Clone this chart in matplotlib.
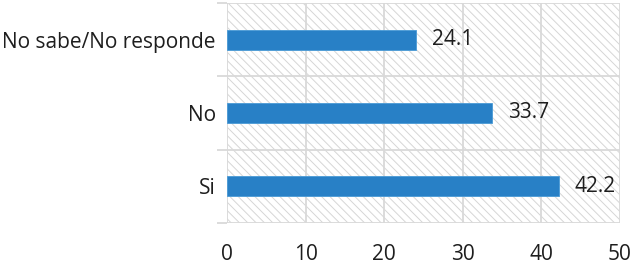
import matplotlib.pyplot as plt
from matplotlib.patches import Rectangle
import numpy as np

# data
categories = ['Si', 'No', 'No sabe/No responde']
values = [42.2, 33.7, 24.1]
xticks = [0, 10, 20, 30, 40, 50]

plt.rcParams['font.family'] = ['Open Sans', 'DejaVu Sans']
plt.rcParams['hatch.linewidth'] = 0.7
plt.rcParams['hatch.color'] = '#d6d6d6'

fig = plt.figure(figsize=(6.33, 2.65), dpi=100)
ax = fig.add_axes([0.3586, 0.1585, 0.6209, 0.8302])

grid_c = '#d9d9d9'
txt_c = '#1e1e1e'
# hatched background
bg = Rectangle((0, 0), 1, 1, transform=ax.transAxes, facecolor='white',
               edgecolor='#d6d6d6', hatch='\\\\\\\\', linewidth=0, zorder=0)
ax.add_patch(bg)

y = np.arange(len(categories))
ax.barh(y, values, height=0.27, color='#2880c6', edgecolor='#4a9ad6',
        linewidth=0.6, zorder=3)

for yi, v in zip(y, values):
    ax.text(v + 2.0, yi, f'{v:.1f}', va='center', ha='left', fontsize=15,
            color=txt_c)

ax.set_xlim(0, 50)
ax.set_ylim(-0.5, len(categories) - 0.5)
ax.set_xticks(xticks)
ax.set_yticks(y)
ax.set_yticklabels(categories)
ax.set_yticks(np.arange(-0.5, len(categories), 1), minor=True)

for xt in xticks:
    ax.axvline(xt, color=grid_c, linewidth=1.3, zorder=1)
for yb in np.arange(-0.5, len(categories), 1):
    ax.axhline(yb, color=grid_c, linewidth=1.3, zorder=1)

for s in ax.spines.values():
    s.set_visible(False)

ax.tick_params(axis='x', length=0, labelsize=15, pad=15, colors=txt_c)
ax.tick_params(axis='y', which='major', length=0, labelsize=15, pad=8,
               colors=txt_c)
ax.tick_params(axis='y', which='minor', length=7, width=1.3, color=grid_c)
ax.set_facecolor('white')

fig.savefig('out.png', dpi=100)
